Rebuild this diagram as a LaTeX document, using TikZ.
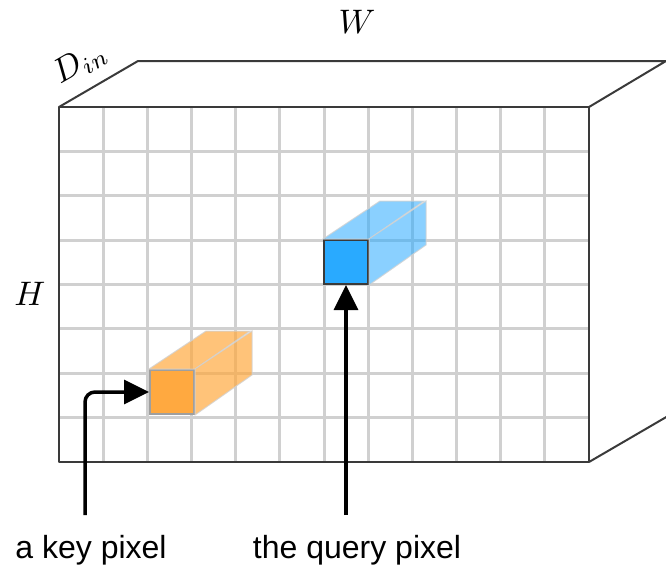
\documentclass[tikz,border=0pt]{standalone}
\usepackage{fontspec}
\setsansfont{Liberation Sans}
\usepackage{xcolor}
\usetikzlibrary{arrows.meta, positioning}

\definecolor{edgegray}{HTML}{3A3A3A}
\definecolor{gridgray}{HTML}{D0D0D0}
\definecolor{queryblue}{HTML}{29AAFF}
\definecolor{keyorange}{HTML}{FFA940}

\begin{document}
\begin{tikzpicture}[
    x=1pt, y=-1pt,
    gridline/.style={gridgray, line width=3pt},
    boxedge/.style={draw=edgegray, line width=#1, line join=round},
    pixel/.style={rectangle, minimum size=44pt, inner sep=0pt, line width=2pt},
    prism/.style={draw=gray!35, line width=1pt, fill opacity=#1, draw opacity=0.8},
    dimlabel/.style={scale=3.4, inner sep=0pt},
    pixlabel/.style={font=\sffamily\fontsize{32}{38}\selectfont, anchor=base, inner sep=0pt},
    arrow/.style={-{Triangle[length=25pt, width=24pt]}, line width=3.5pt}
]
\useasboundingbox (0,0) rectangle (666,571);

% grid on the front face
\foreach \i in {1,...,11}
  \draw[gridline] ({59+\i*44.17},107) -- ({59+\i*44.17},462);
\foreach \j in {1,...,7}
  \draw[gridline] (59,{107+\j*44.375}) -- (589,{107+\j*44.375});

% the two pixels
\node[pixel, draw=edgegray, fill=queryblue] (query) at (346,262) {};
\node[pixel, draw=gray!75, fill=keyorange] (key) at (172,392) {};

% their columns through the depth
\filldraw[prism=0.55, fill=queryblue] (query.north west) -- ++(57,-38) -- ++(44,0) -- (query.north east) -- cycle;
\filldraw[prism=0.55, fill=queryblue] (query.north east) -- ++(57,-38) -- ++(0,44) -- (query.south east) -- cycle;
\filldraw[prism=0.7, fill=keyorange] (key.north west) -- ++(57,-38) -- ++(44,0) -- (key.north east) -- cycle;
\filldraw[prism=0.7, fill=keyorange] (key.north east) -- ++(57,-38) -- ++(0,44) -- (key.south east) -- cycle;

% the box
\draw[boxedge=2.5pt] (59,107) rectangle (589,462);
\draw[boxedge=2pt] (59,107) -- (138,61) -- (666,61) -- (589,107);
\draw[boxedge=2pt] (589,462) -- (668,416);

% dimensions
\node[dimlabel] (width) at (357,22) {$W$};
\node[dimlabel] (height) at (30,294) {$H$};
\node[dimlabel, rotate=30] (depth) at (80,63) {$D_{in}$};

% captions and arrows
\node[pixlabel] (keytext) at (91,558) {a key pixel};
\node[pixlabel] (querytext) at (357,558) {the query pixel};
\coordinate (keystart) at (85,515);
\coordinate (querystart) at (346,515);

\draw[arrow, rounded corners=10pt] (keystart) |- (key.west);
\draw[arrow] (querystart) -- (query.south);

\end{tikzpicture}
\end{document}
